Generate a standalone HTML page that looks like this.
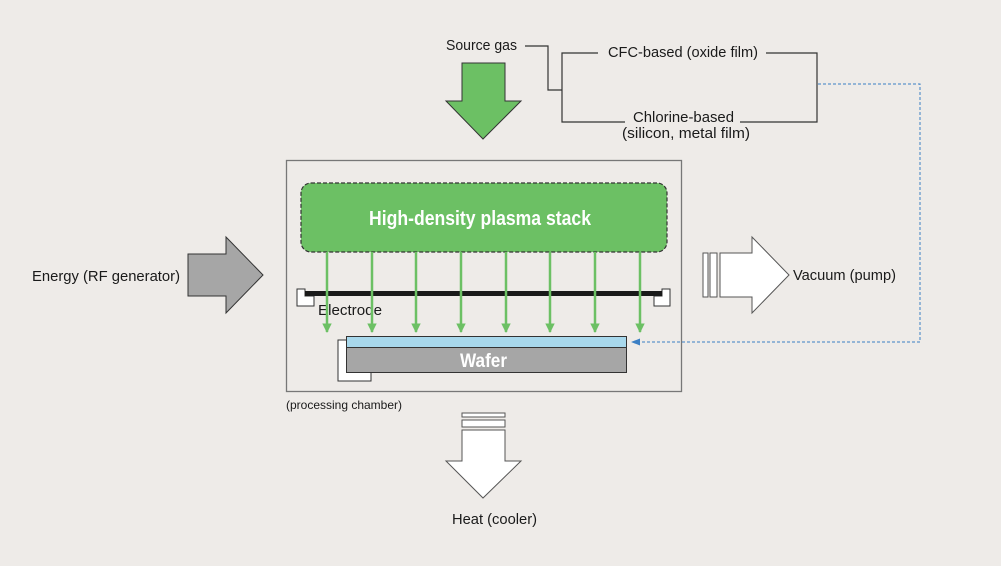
<!DOCTYPE html>
<html><head><meta charset="utf-8"><style>
html,body{margin:0;padding:0;background:#eeebe8;}
svg{display:block;}
text{font-family:"Liberation Sans Narrow","Liberation Sans",sans-serif;fill:#1a1a1a;}
</style></head><body>
<svg width="1001" height="566" viewBox="0 0 1001 566" xmlns="http://www.w3.org/2000/svg">
<rect width="1001" height="566" fill="#eeebe8"/>
<defs>
<marker id="ga" viewBox="0 0 10 10" refX="9" refY="5" markerWidth="3.8" markerHeight="4.4" orient="auto"><path d="M0,0L10,5L0,10z" fill="#6cc064"/></marker>
<marker id="ba" viewBox="0 0 10 10" refX="9" refY="5" markerWidth="9" markerHeight="9" orient="auto"><path d="M0,1L10,5L0,9z" fill="#3b7fc4"/></marker>
</defs>
<!-- chamber -->
<rect x="286.5" y="160.5" width="395" height="231" fill="none" stroke="#777" stroke-width="1.3"/>
<text x="286" y="409" font-size="12" textLength="116" lengthAdjust="spacingAndGlyphs">(processing chamber)</text>
<!-- plasma -->
<rect x="301" y="183" width="366" height="69" rx="10" fill="#6cc064" stroke="#333" stroke-width="1.2" stroke-dasharray="4,2"/>
<text x="369" y="225" font-size="20" font-weight="bold" style="fill:#fff" textLength="222" lengthAdjust="spacingAndGlyphs">High-density plasma stack</text>
<!-- electrode -->
<polygon points="305,289 297,289 297,306 314,306 314,296 305,296" fill="#fff" stroke="#333"/>
<polygon points="662,289 670,289 670,306 654,306 654,296 662,296" fill="#fff" stroke="#333"/>
<rect x="305" y="291" width="357" height="5" fill="#1a1a1a"/>
<text x="318" y="315" font-size="15" textLength="64" lengthAdjust="spacingAndGlyphs">Electrode</text>
<!-- green arrows -->
<g stroke="#6cc064" stroke-width="2.5" marker-end="url(#ga)">
<line x1="327" y1="252" x2="327" y2="332"/>
<line x1="372" y1="252" x2="372" y2="332"/>
<line x1="416" y1="252" x2="416" y2="332"/>
<line x1="461" y1="252" x2="461" y2="332"/>
<line x1="506" y1="252" x2="506" y2="332"/>
<line x1="550" y1="252" x2="550" y2="332"/>
<line x1="595" y1="252" x2="595" y2="332"/>
<line x1="640" y1="252" x2="640" y2="332"/>
</g>
<!-- wafer -->
<rect x="338" y="340" width="33" height="41" fill="#fff" stroke="#333"/>
<rect x="346.5" y="336.5" width="280" height="11" fill="#a8d8ec" stroke="#333"/>
<rect x="346.5" y="347.5" width="280" height="25" fill="#a6a6a6" stroke="#333"/>
<text x="460" y="367" font-size="19" font-weight="bold" style="fill:#fff" textLength="47" lengthAdjust="spacingAndGlyphs">Wafer</text>
<!-- blue dashed -->
<polyline points="818,84 920,84 920,342 632,342" fill="none" stroke="#3b7fc4" stroke-width="1" stroke-dasharray="3,2" marker-end="url(#ba)"/>
<!-- source gas tree -->
<text x="446" y="50" font-size="15" textLength="71" lengthAdjust="spacingAndGlyphs">Source gas</text>
<g fill="none" stroke="#333" stroke-width="1.2">
<polyline points="525,46 548,46 548,90 562,90"/>
<polyline points="598,53 562,53 562,122 625,122"/>
<polyline points="766,53 817,53 817,122 740,122"/>
</g>
<text x="608" y="57" font-size="15" textLength="150" lengthAdjust="spacingAndGlyphs">CFC-based (oxide film)</text>
<text x="633" y="122" font-size="15" textLength="101" lengthAdjust="spacingAndGlyphs">Chlorine-based</text>
<text x="622" y="138" font-size="15" textLength="128" lengthAdjust="spacingAndGlyphs">(silicon, metal film)</text>
<!-- source gas arrow -->
<polygon points="462,63 505,63 505,101 521,101 483,139 446,101 462,101" fill="#6cc064" stroke="#333" stroke-width="1"/>
<!-- energy arrow -->
<text x="32" y="281" font-size="15" textLength="148" lengthAdjust="spacingAndGlyphs">Energy (RF generator)</text>
<polygon points="188,254 226,254 226,237 263,275 226,313 226,296 188,296" fill="#a6a6a6" stroke="#333" stroke-width="1"/>
<!-- vacuum -->
<rect x="703" y="253" width="5" height="44" fill="#fff" stroke="#555"/>
<rect x="710" y="253" width="7" height="44" fill="#fff" stroke="#555"/>
<polygon points="720,253 752,253 752,237 789,275 752,313 752,297 720,297" fill="#fff" stroke="#555" stroke-width="1"/>
<text x="793" y="280" font-size="15" textLength="103" lengthAdjust="spacingAndGlyphs">Vacuum (pump)</text>
<!-- heat -->
<rect x="462" y="413" width="43" height="4" fill="#fff" stroke="#555"/>
<rect x="462" y="420" width="43" height="7" fill="#fff" stroke="#555"/>
<polygon points="462,430 505,430 505,461 521,461 483,498 446,461 462,461" fill="#fff" stroke="#555" stroke-width="1"/>
<text x="452" y="524" font-size="15" textLength="85" lengthAdjust="spacingAndGlyphs">Heat (cooler)</text>
</svg>
</body></html>
